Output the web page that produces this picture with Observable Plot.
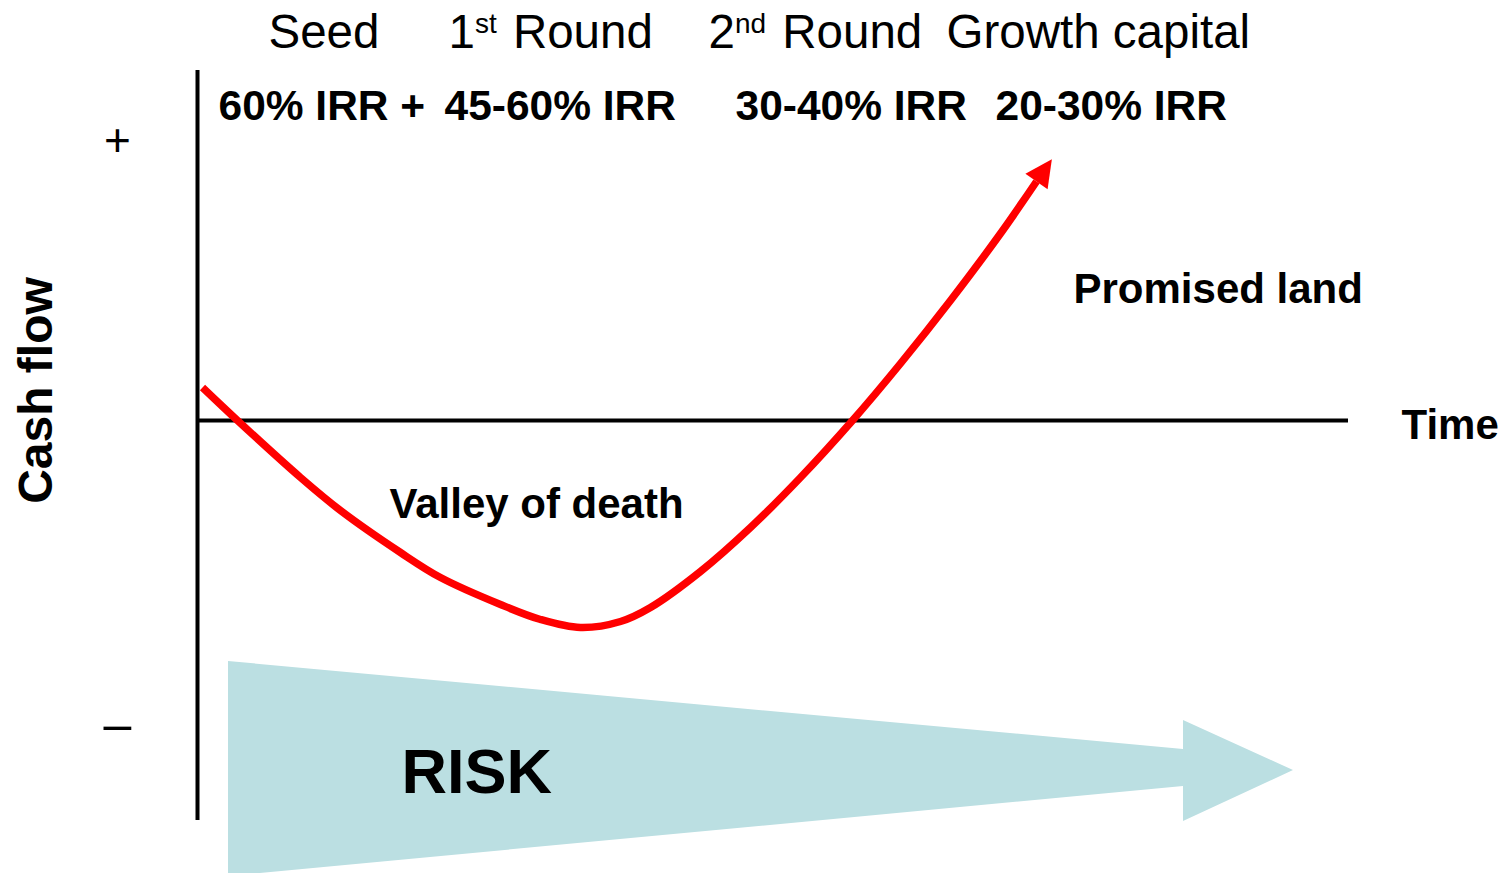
<!DOCTYPE html>
<html>
<head>
<meta charset="utf-8">
<script src="https://cdn.jsdelivr.net/npm/d3@7"></script>
<script src="https://cdn.jsdelivr.net/npm/@observablehq/plot@0.6"></script>
<style>
  html, body { margin: 0; padding: 0; background: #ffffff; }
  svg { display: block; }
</style>
</head>
<body>
<div id="chart"></div>
<script>
// ---------- data ----------
const stages = ["Seed", "1st Round", "2nd Round", "Growth capital"];
const irrRanges = ["60% IRR +", "45-60% IRR", "30-40% IRR", "20-30% IRR"];
const axisTitle = "Cash flow";
const axisSigns = ["+", "–"];
const annotations = ["Valley of death", "Promised land", "Time"];
const riskLabel = "RISK";

// cash-flow curve (time, cash flow)
const curveTime = [202, 237, 300, 340, 400, 440, 500, 540, 580, 620, 650, 700, 750, 800, 852, 900, 950, 1000, 1036];
const curveCash = [33, 0, -57, -90, -132, -157, -184, -199, -207, -201, -187, -151, -107, -57, 0, 57, 120, 187, 239];

// risk arrow outline (time, upper edge, lower edge)
const riskTime = [228, 1183, 1183, 1293];
const riskTop = [-241, -329, -300, -350];
const riskBottom = [-456, -366, -401, -350];

// axes extents
const timeAxis = {origin: 197, end: 1348};
const cashAxis = {top: 350, bottom: -400};

// ---------- layout ----------
const stageX = [268, 448, 708, 946];
const stageY = 373;           // baseline, in cash-flow units
const irrX = [218, 444, 735, 995];
const irrY = 301;
const annX = [389, 1073, 1401];
const annY = [-97, 118, -18];

const curve = curveTime.map((t, i) => ({t, v: curveCash[i]}));
const risk = riskTime.map((t, i) => ({t, y1: riskTop[i], y2: riskBottom[i]}));
const stageRows = stages.map((s, i) => ({s, x: stageX[i]}));
const irrRows = irrRanges.map((s, i) => ({s, x: irrX[i]}));
const annRows = annotations.map((s, i) => ({s, x: annX[i], y: annY[i]}));

const n = curve.length;
const last = curve[n - 1], prev = curve[n - 2];
const arrowAngle = Math.atan2(last.t - prev.t, last.v - prev.v) * 180 / Math.PI;
const arrowHead = {
  draw(context) {
    context.moveTo(0, -27);
    context.lineTo(13.5, 0);
    context.lineTo(-13.5, 0);
    context.closePath();
  }
};

const font = "Liberation Sans, Arial, Helvetica, sans-serif";

const svg = Plot.plot({
  width: 1503,
  height: 873,
  margin: 0,
  x: {domain: [0, 1503], range: [0, 1503], axis: null},
  y: {domain: [-453, 420], range: [873, 0], axis: null},
  style: {fontFamily: font, background: "#ffffff", color: "#000"},
  marks: [
    Plot.areaY(risk, {x: "t", y1: "y1", y2: "y2", fill: "#bbdfe2", curve: "linear"}),
    Plot.ruleX([timeAxis.origin], {y1: cashAxis.top, y2: cashAxis.bottom, stroke: "#000", strokeWidth: 4}),
    Plot.ruleY([0], {x1: timeAxis.origin, x2: timeAxis.end, stroke: "#000", strokeWidth: 4}),
    Plot.line(curve, {x: "t", y: "v", stroke: "#ff0000", strokeWidth: 7.5, curve: "catmull-rom", strokeLinecap: "butt"}),
    Plot.dot([last], {x: "t", y: "v", symbol: arrowHead, rotate: arrowAngle, fill: "#ff0000", stroke: null, r: 10}),
    Plot.text(stageRows, {x: "x", y: stageY, text: "s", textAnchor: "start", lineAnchor: "bottom", fontSize: 47.5, fill: "#000"}),
    Plot.text(irrRows, {x: "x", y: irrY, text: "s", textAnchor: "start", lineAnchor: "bottom", fontSize: 42.5, fontWeight: "bold", fill: "#000"}),
    Plot.text(annRows, {x: "x", y: "y", text: "s", textAnchor: "start", lineAnchor: "bottom", fontSize: 42, fontWeight: "bold", fill: "#000"}),
    Plot.text([riskLabel], {x: 401, y: -372, text: d => d, textAnchor: "start", lineAnchor: "bottom", fontSize: 63, fontWeight: "bold", fill: "#000"}),
    Plot.text([axisSigns[0]], {x: 117, y: 265, text: d => d, textAnchor: "middle", lineAnchor: "bottom", fontSize: 46, fill: "#000"}),
    Plot.text([axisSigns[1]], {x: 117, y: -320, text: d => d, textAnchor: "middle", lineAnchor: "bottom", fontSize: 50, fill: "#000"}),
    Plot.text([axisTitle], {x: 51, y: 30, text: d => d, rotate: -90, textAnchor: "middle", lineAnchor: "bottom", fontSize: 48, fontWeight: "bold", fill: "#000"})
  ]
});

// ordinal superscripts ("1st", "2nd") as real tspans
const ns = "http://www.w3.org/2000/svg";
svg.querySelectorAll("text").forEach(t => {
  const m = t.textContent.match(/^(\d+)(st|nd|rd|th) (.+)$/);
  if (!m) return;
  t.textContent = "";
  t.append(m[1]);
  const sup = document.createElementNS(ns, "tspan");
  sup.setAttribute("font-size", 28);
  sup.setAttribute("dy", -15);
  sup.textContent = m[2];
  t.append(sup);
  const rest = document.createElementNS(ns, "tspan");
  rest.setAttribute("font-size", 47.5);
  rest.setAttribute("dy", 15);
  rest.setAttribute("dx", 3);
  rest.textContent = " " + m[3];
  t.append(rest);
});

document.getElementById("chart").appendChild(svg);
</script>
</body>
</html>
